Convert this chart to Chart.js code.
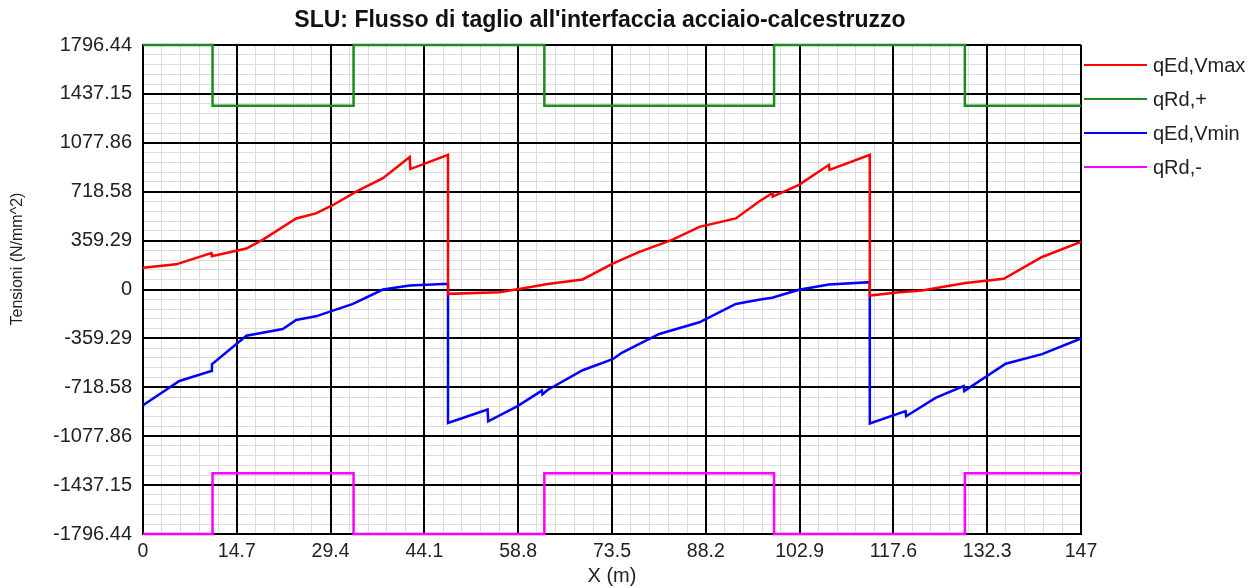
<!DOCTYPE html>
<html>
<head>
<meta charset="utf-8">
<script src="https://cdn.jsdelivr.net/npm/chart.js@4/dist/chart.umd.min.js"></script>
<style>
  html, body { margin: 0; padding: 0; background: #fff; }
  #wrap { width: 1249px; height: 588px; }
</style>
</head>
<body>
<div id="wrap"><canvas id="chart" width="1249" height="588"></canvas></div>
<script>
// --- Data ---
const xTickLabels = ['0', '14.7', '29.4', '44.1', '58.8', '73.5', '88.2', '102.9', '117.6', '132.3', '147'];
const yTickLabels = ['-1796.44', '-1437.15', '-1077.86', '-718.58', '-359.29', '0',
                     '359.29', '718.58', '1077.86', '1437.15', '1796.44'];

// [x (m), tension (N/mm^2)]
const qEdVmax = [
  [0, 160], [5.2, 185], [10.7, 268], [10.8, 244], [16.2, 301], [18.8, 367], [24.0, 522],
  [27.1, 559], [29.8, 621], [33.4, 719], [37.6, 818], [41.8, 973], [41.9, 885], [47.8, 990],
  [47.8, -32], [55.8, -20], [58.7, 2], [63.7, 42], [68.9, 74], [73.6, 190], [77.8, 276],
  [83.0, 367], [87.2, 460], [92.9, 522], [96.5, 645], [98.6, 707], [98.7, 682], [102.8, 769],
  [107.5, 916], [107.6, 879], [113.9, 990], [113.9, -44], [118.5, -20], [122.1, -7],
  [128.9, 47], [134.9, 79], [140.9, 239], [147, 350]
];
const qRdPlus = [
  [0, 1796.44], [10.9, 1796.44], [10.9, 1350], [33.0, 1350], [33.0, 1796.44],
  [62.9, 1796.44], [62.9, 1350], [98.9, 1350], [98.9, 1796.44],
  [128.8, 1796.44], [128.8, 1350], [147, 1350]
];
const qEdVmin = [
  [0, -850], [5.7, -672], [10.7, -599], [10.8, -549], [16.2, -340], [21.9, -290], [24.0, -224],
  [27.1, -197], [32.9, -106], [37.6, 0], [41.8, 30], [47.8, 42], [47.8, -981], [54.0, -882],
  [54.1, -968], [58.7, -857], [62.5, -743], [62.6, -770], [63.4, -738], [68.9, -593],
  [73.6, -512], [75.1, -463], [80.9, -327], [87.2, -241], [92.9, -106], [96.5, -76],
  [98.6, -61], [102.8, -2], [107.5, 37], [113.9, 54], [113.9, -984], [119.5, -894],
  [119.6, -931], [124.2, -796], [128.6, -709], [128.7, -746], [135.2, -545], [140.9, -475],
  [147, -360]
];
const qRdMinus = [
  [0, -1796.44], [10.9, -1796.44], [10.9, -1350], [33.0, -1350], [33.0, -1796.44],
  [62.9, -1796.44], [62.9, -1350], [98.9, -1350], [98.9, -1796.44],
  [128.8, -1796.44], [128.8, -1350], [147, -1350]
];

const FONT = "'Liberation Sans', Arial, sans-serif";
const SUB = 5; // minor grid lines per major interval

function majorTicks(labels) {
  return labels.map(l => ({ value: Number(l) }));
}

// every major interval split in SUB parts (for the light grid)
function minorTicks(labels) {
  const major = labels.map(Number);
  const out = [];
  for (let i = 0; i < major.length - 1; i++) {
    for (let k = 1; k < SUB; k++) {
      out.push({ value: major[i] + (major[i + 1] - major[i]) * k / SUB });
    }
  }
  return out;
}

// --- Title, y title and legend drawn by hand ---
const decorations = {
  id: 'decorations',
  afterDraw(chart) {
    const ctx = chart.ctx;
    ctx.save();
    ctx.fillStyle = '#111';
    ctx.font = 'bold 23px ' + FONT;
    ctx.textAlign = 'center';
    ctx.textBaseline = 'middle';
    ctx.fillText("SLU: Flusso di taglio all'interfaccia acciaio-calcestruzzo", 600, 21);

    ctx.save();
    ctx.translate(18, 259);
    ctx.rotate(-Math.PI / 2);
    ctx.fillStyle = '#222';
    ctx.font = '16px ' + FONT;
    ctx.fillText('Tensioni (N/mm^2)', 0, 0);
    ctx.restore();

    ctx.font = '20px ' + FONT;
    ctx.textAlign = 'left';
    chart.data.datasets.forEach((ds, i) => {
      const y = 65 + i * 34;
      ctx.strokeStyle = ds.borderColor;
      ctx.lineWidth = 2;
      ctx.beginPath();
      ctx.moveTo(1084, y);
      ctx.lineTo(1147, y);
      ctx.stroke();
      ctx.fillStyle = '#222';
      ctx.fillText(ds.label, 1153, y + 1);
    });
    ctx.restore();
  }
};

function series(label, pts, color) {
  return {
    label: label,
    data: pts.map(p => ({ x: p[0], y: p[1] })),
    xAxisID: 'x',
    yAxisID: 'y',
    borderColor: color,
    borderWidth: 2.5,
    pointRadius: 0,
    tension: 0,
    fill: false,
    clip: false
  };
}

const minorScale = (labels, min, max, isX) => ({
  type: 'linear',
  min: min,
  max: max,
  position: isX ? 'bottom' : 'left',
  afterBuildTicks: s => { s.ticks = minorTicks(labels); },
  afterFit: s => { if (isX) s.height = 0; else s.width = 0; },
  ticks: { display: false },
  grid: { color: '#dcdcdc', lineWidth: 1, drawTicks: false, z: -2 },
  border: { display: false }
});

new Chart(document.getElementById('chart').getContext('2d'), {
  type: 'line',
  data: {
    datasets: [
      series('qEd,Vmax', qEdVmax, '#ff0000'),
      series('qRd,+', qRdPlus, '#1f8a1f'),
      series('qEd,Vmin', qEdVmin, '#0000ff'),
      series('qRd,-', qRdMinus, '#ff00ff')
    ]
  },
  options: {
    responsive: false,
    animation: false,
    layout: { padding: { top: 45, right: 168, left: 0, bottom: 0 } },
    plugins: { legend: { display: false }, tooltip: { enabled: false }, title: { display: false } },
    scales: {
      x: {
        type: 'linear',
        min: 0,
        max: 147,
        afterBuildTicks: s => { s.ticks = majorTicks(xTickLabels); },
        afterFit: s => { s.height = 54; },
        ticks: {
          autoSkip: false,
          maxRotation: 0,
          padding: 6,
          color: '#222',
          font: { family: FONT, size: 19.5 },
          callback: (v, i) => xTickLabels[i]
        },
        grid: { color: '#000', lineWidth: 2, drawTicks: false, z: -1 },
        border: { color: '#000', width: 2 },
        title: { display: true, text: 'X (m)', color: '#222', font: { family: FONT, size: 20 }, padding: { top: 0, bottom: 0 } }
      },
      y: {
        type: 'linear',
        min: -1796.44,
        max: 1796.44,
        afterBuildTicks: s => { s.ticks = majorTicks(yTickLabels); },
        afterFit: s => { s.width = 143; },
        ticks: {
          autoSkip: false,
          padding: 11,
          color: '#222',
          font: { family: FONT, size: 20 },
          callback: (v, i) => yTickLabels[i]
        },
        grid: { color: '#000', lineWidth: 2, drawTicks: false, z: -1 },
        border: { color: '#000', width: 2 }
      },
      xMinor: minorScale(xTickLabels, 0, 147, true),
      yMinor: minorScale(yTickLabels, -1796.44, 1796.44, false)
    }
  },
  plugins: [decorations]
});
</script>
</body>
</html>
